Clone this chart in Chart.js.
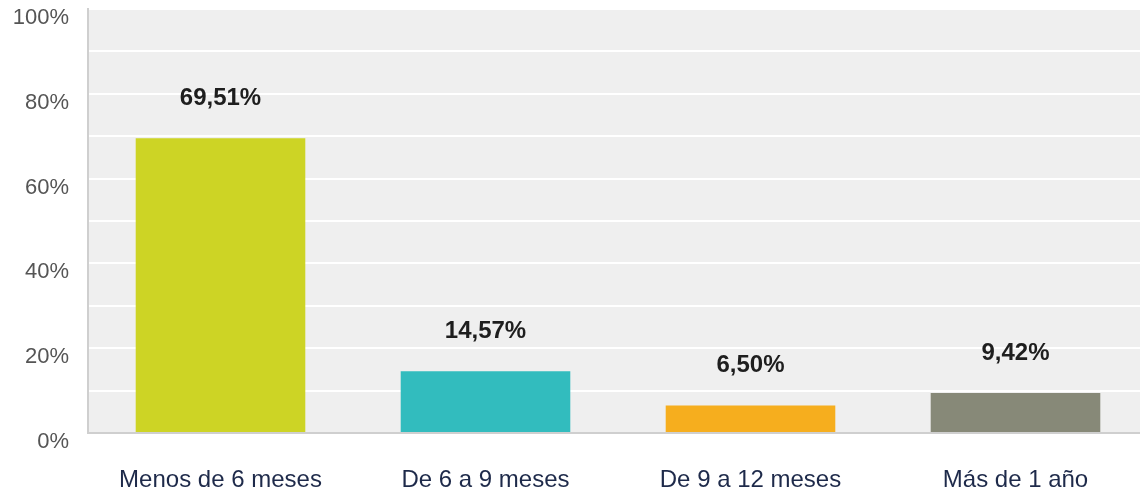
<!DOCTYPE html>
<html>
<head>
<meta charset="utf-8">
<script src="https://cdn.jsdelivr.net/npm/chart.js@4"></script>
<style>
    html, body { margin: 0; padding: 0; background: #fff; overflow: hidden; }
    #wrap { width: 1148px; height: 492px; }
</style>
</head>
<body>
<div id="wrap"><canvas id="chart"></canvas></div>
<script>
// ─────────────────────────────────────────────
// Data
// ─────────────────────────────────────────────
const CATEGORIES = ["Menos de 6 meses", "De 6 a 9 meses", "De 9 a 12 meses", "Más de 1 año"];
const VALUES     = [69.51, 14.57, 6.50, 9.42];
const BAR_COLORS = ["#cdd425", "#32bcbe", "#f6ae1e", "#878978"];
const Y_TICKS    = [0, 20, 40, 60, 80, 100];

const FONT = "'Liberation Sans', Arial, sans-serif";
const fmt = v => v.toFixed(2).replace(".", ",") + "%";

// grey plot background
const plotBg = {
    id: "plotBg",
    beforeDraw(chart) {
        const { ctx, chartArea: a } = chart;
        ctx.save();
        ctx.fillStyle = "#efefef";
        ctx.fillRect(a.left, a.top, a.right - a.left, a.bottom - a.top);
        ctx.restore();
    }
};

// value labels above the bars
const valueLabels = {
    id: "valueLabels",
    afterDatasetsDraw(chart) {
        const { ctx } = chart;
        const meta = chart.getDatasetMeta(0);
        ctx.save();
        ctx.font = "bold 24px " + FONT;
        ctx.fillStyle = "#1e1e1e";
        ctx.textAlign = "center";
        ctx.textBaseline = "middle";
        meta.data.forEach((bar, i) => {
            ctx.fillText(fmt(VALUES[i]), bar.x, bar.y - 40);
        });
        ctx.restore();
    }
};

new Chart(document.getElementById("chart"), {
    type: "bar",
    data: {
        labels: CATEGORIES,
        datasets: [{
            data: VALUES,
            backgroundColor: BAR_COLORS,
            barPercentage: 0.64,
            categoryPercentage: 1,
        }]
    },
    options: {
        responsive: true,
        maintainAspectRatio: false,
        animation: false,
        layout: { padding: { top: 9, right: 0, left: 0, bottom: 0 } },
        plugins: {
            legend: { display: false },
            tooltip: { enabled: false }
        },
        scales: {
            x: {
                grid: { display: false, drawTicks: false },
                border: { color: "#cfcfcf", width: 2 },
                ticks: {
                    color: "#1e2a4a",
                    font: { family: FONT, size: 24 },
                    padding: 33,
                    maxRotation: 0,
                    autoSkip: false
                },
                afterFit: s => { s.height = 59; s.paddingLeft = 0; s.paddingRight = 0; }
            },
            y: {
                min: 0,
                max: 100,
                ticks: {
                    stepSize: 10,
                    color: "#555",
                    font: { family: FONT, size: 22 },
                    padding: 19,
                    labelOffset: 9,
                    callback: v => Y_TICKS.includes(v) ? v + "%" : ""
                },
                grid: { color: "#ffffff", lineWidth: 2, drawTicks: false },
                border: { color: "#cfcfcf", width: 2 },
                afterFit: s => { s.width = 88; s.paddingTop = 0; s.paddingBottom = 0; }
            }
        }
    },
    plugins: [plotBg, valueLabels]
});
</script>
</body>
</html>
